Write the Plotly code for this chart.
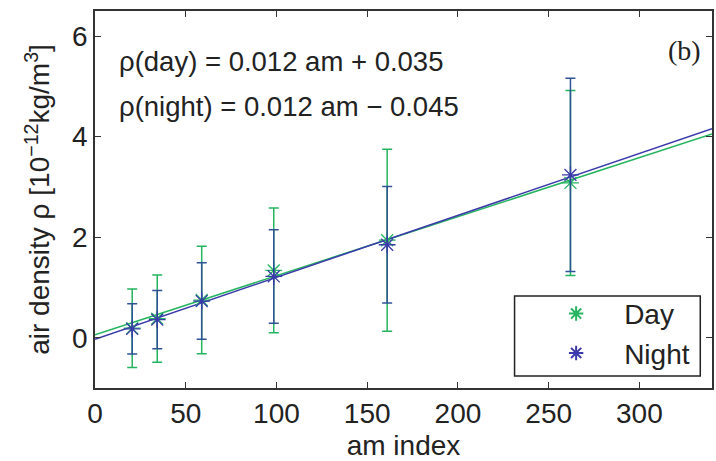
import plotly.graph_objects as go

# ---- data ----
am = [20.5, 34.3, 58.8, 98.5, 161.0, 262.0]
day_rho = [0.19, 0.38, 0.75, 1.34, 1.94, 3.08]
day_err = [0.78, 0.87, 1.07, 1.24, 1.81, 1.84]
night_rho = [0.175, 0.36, 0.73, 1.22, 1.85, 3.24]
night_err = [0.50, 0.58, 0.76, 0.93, 1.16, 1.92]

# fitted lines (slope, intercept) as drawn
day_fit = (0.01174, 0.06)
night_fit = (0.01232, -0.03)
fit_x = [0, 340]

x_ticks = [0, 50, 100, 150, 200, 250, 300]
y_ticks = [0, 2, 4, 6]

DAY = "#25b45f"
NIGHT = "#3a3aaa"
NIGHT_ERR = "#2f5396"
AX = "#333333"
TXT = "#222222"
FONT = "Liberation Sans, Arial, sans-serif"

fig = go.Figure()

fig.add_trace(go.Scatter(
    x=fit_x, y=[day_fit[0] * v + day_fit[1] for v in fit_x],
    mode="lines", line=dict(color=DAY, width=1.5), showlegend=False, hoverinfo="skip"))
fig.add_trace(go.Scatter(
    x=fit_x, y=[night_fit[0] * v + night_fit[1] for v in fit_x],
    mode="lines", line=dict(color=NIGHT, width=1.5), showlegend=False, hoverinfo="skip"))

fig.add_trace(go.Scatter(
    x=am, y=day_rho, mode="markers", name="Day",
    marker=dict(symbol="asterisk", size=14, color=DAY, line=dict(color=DAY, width=1.3)),
    error_y=dict(type="data", array=day_err, visible=True, color=DAY, thickness=1.5, width=5)))
fig.add_trace(go.Scatter(
    x=am, y=night_rho, mode="markers", name="Night",
    marker=dict(symbol="asterisk", size=14, color=NIGHT, line=dict(color=NIGHT, width=1.3)),
    error_y=dict(type="data", array=night_err, visible=True, color=NIGHT_ERR, thickness=1.5, width=5)))

fig.add_annotation(x=12, y=5.5, xref="x", yref="y", xanchor="left", yanchor="middle",
                   text="ρ(day) = 0.012 am + 0.035", showarrow=False,
                   font=dict(family=FONT, size=27.5, color=TXT))
fig.add_annotation(x=12, y=4.6, xref="x", yref="y", xanchor="left", yanchor="middle",
                   text="ρ(night) = 0.012 am − 0.045", showarrow=False,
                   font=dict(family=FONT, size=27.5, color=TXT))
fig.add_annotation(x=0.985, y=5.72, xref="paper", yref="y", xanchor="right", yanchor="middle",
                   text="(b)", showarrow=False,
                   font=dict(family="Liberation Serif, Times New Roman, serif", size=28, color=TXT))

# legend frame
fig.add_shape(type="rect", xref="paper", yref="paper", x0=0.680, x1=0.981, y0=0.032, y1=0.244,
              line=dict(color=TXT, width=1.5), fillcolor="white", layer="above")

fig.update_layout(
    width=716, height=461,
    margin=dict(l=95, r=2, t=11, b=73),
    paper_bgcolor="white", plot_bgcolor="white",
    font=dict(family=FONT, size=28, color=TXT),
    legend=dict(x=0.702, y=0.145, xanchor="left", yanchor="middle",
                borderwidth=0, bgcolor="rgba(0,0,0,0)", itemwidth=86,
                font=dict(family=FONT, size=28, color=TXT),
                itemsizing="constant", tracegroupgap=0),
)
fig.update_xaxes(range=[0, 340], tickvals=x_ticks, ticks="inside", ticklen=6,
                 tickcolor=AX, showline=True, linecolor=AX, linewidth=1.5, mirror="ticks",
                 showgrid=False, zeroline=False,
                 title=dict(text="am index", standoff=10, font=dict(size=28)),
                 tickfont=dict(size=28))
fig.update_yaxes(range=[-1, 6.5], tickvals=y_ticks, ticks="inside", ticklen=6,
                 tickcolor=AX, showline=True, linecolor=AX, linewidth=1.5, mirror="ticks",
                 showgrid=False, zeroline=False,
                 title=dict(text="air density ρ [10<sup>−12</sup>kg/m<sup>3</sup>]", standoff=14,
                            font=dict(size=28)),
                 tickfont=dict(size=28))

fig.write_html("out.html")
